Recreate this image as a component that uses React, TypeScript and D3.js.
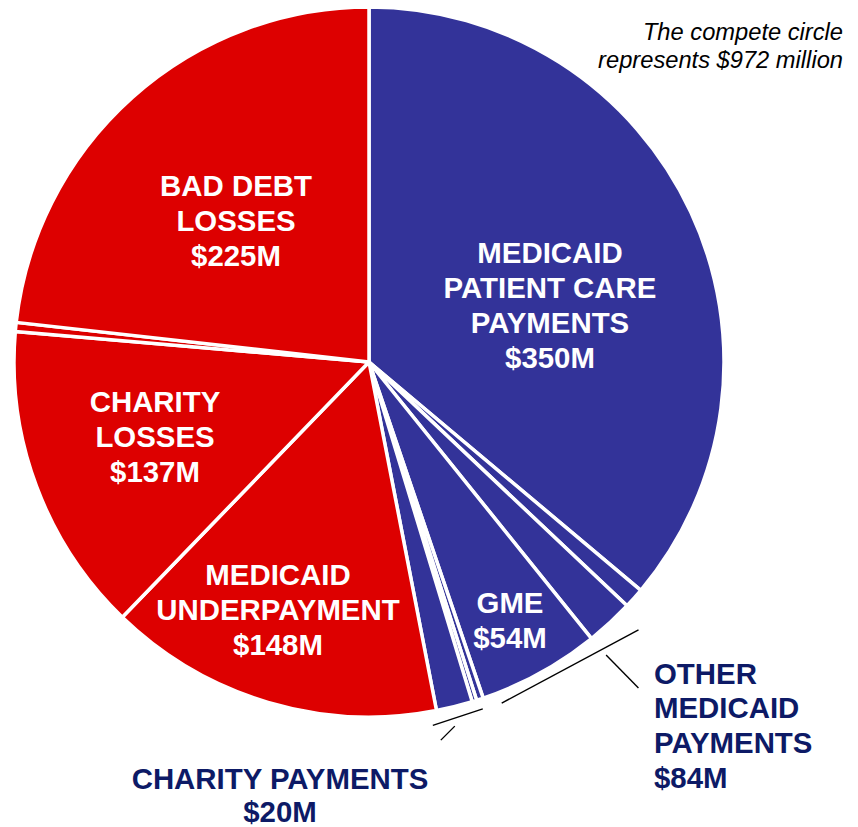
import React from "react";
import * as d3 from "d3";

// ---- data (millions of dollars), clockwise from 12 o'clock ----
const sliceNames = [
  "Medicaid patient care payments",
  "Other Medicaid payments A",
  "Other Medicaid payments B",
  "GME",
  "Charity payments A",
  "Charity payments B",
  "Charity payments C",
  "Medicaid underpayment",
  "Charity losses",
  "Other losses",
  "Bad debt losses",
];
const sliceValues = [350, 9, 21, 54, 3, 2, 16, 148, 137, 4, 225];
const sliceGroup = ["pay", "pay", "pay", "pay", "pay", "pay", "pay", "loss", "loss", "loss", "loss"];

const insideLabels = [
  ["MEDICAID", "PATIENT CARE", "PAYMENTS", "$350M"],
  ["GME", "$54M"],
  ["MEDICAID", "UNDERPAYMENT", "$148M"],
  ["CHARITY", "LOSSES", "$137M"],
  ["BAD DEBT", "LOSSES", "$225M"],
];
const otherMedicaidLabel = ["OTHER", "MEDICAID", "PAYMENTS", "$84M"];
const charityPaymentsLabel = ["CHARITY PAYMENTS", "$20M"];
const noteLines = ["The compete circle", "represents $972 million"];

// ---- layout / style ----
const W = 858;
const H = 827;
const CX = 369;
const CY = 362;
const R = 355;
const BLUE = "#333399";
const RED = "#DD0000";
const NAVY = "#0d1a66";
const FONT = "'Liberation Sans', Arial, sans-serif";
const LINE = 35;
const FS = 29.4;

// label anchor points (centre of first line, offset from the pie centre)
const insideOffsets: [number, number][] = [
  [181, -110],
  [141, 240],
  [-91, 212],
  [-214, 39],
  [-133, -177],
];

const polar = (deg: number, r: number): [number, number] => {
  const a = (deg * Math.PI) / 180;
  return [CX + r * Math.sin(a), CY - r * Math.cos(a)];
};

export default function App() {
  const pie = d3
    .pie<number>()
    .sort(null)
    .value((d) => d)
    .startAngle(0)
    .endAngle(2 * Math.PI);
  const arcs = pie(sliceValues);
  const arc = d3.arc<d3.PieArcDatum<number>>().innerRadius(0).outerRadius(R);
  const color = d3.scaleOrdinal<string, string>().domain(["pay", "loss"]).range([BLUE, RED]);

  const deg = (rad: number) => (rad * 180) / Math.PI;
  // group angles for the outside brackets
  const omStart = deg(arcs[1].startAngle);
  const omEnd = deg(arcs[3].endAngle);
  const cpStart = deg(arcs[4].startAngle);
  const cpEnd = deg(arcs[6].endAngle);

  const omA = polar(omStart + 4.8, R + 25);
  const omB = polar(omEnd - 2.5, R + 11);
  const omL1 = polar(omStart + 11, R + 22);
  const omL2 = polar(omStart + 10.4, R + 68);

  const cpA = polar(cpStart + 0.6, R + 10);
  const cpB = polar(cpEnd + 1.0, R + 14);
  const cpL1: [number, number] = [(cpA[0] + cpB[0]) / 2 - 3, (cpA[1] + cpB[1]) / 2 + 9];
  const cpL2: [number, number] = [cpL1[0] - 14, cpL1[1] + 14];

  return (
    <svg
      width={W}
      height={H}
      style={{ position: "absolute", left: 0, top: 0, background: "#fff" }}
      fontFamily={FONT}
    >
      <g transform={`translate(${CX},${CY})`}>
        {arcs.map((a, i) => (
          <path
            key={sliceNames[i]}
            d={arc(a) || ""}
            fill={color(sliceGroup[i])}
            stroke="#fff"
            strokeWidth={3.5}
            strokeLinejoin="round"
          />
        ))}
      </g>

      {insideLabels.map((lines, i) => (
        <text
          key={i}
          textAnchor="middle"
          fontWeight="bold"
          fontSize={FS}
          fill="#fff"
        >
          {lines.map((t, j) => (
            <tspan key={j} x={CX + insideOffsets[i][0]} y={CY + insideOffsets[i][1] + j * LINE + 10.5}>
              {t}
            </tspan>
          ))}
        </text>
      ))}

      {/* outside annotations */}
      <g stroke="#000" strokeWidth={1.4}>
        <line x1={omA[0]} y1={omA[1]} x2={omB[0]} y2={omB[1]} />
        <line x1={omL1[0]} y1={omL1[1]} x2={omL2[0]} y2={omL2[1]} />
        <line x1={cpA[0]} y1={cpA[1]} x2={cpB[0]} y2={cpB[1]} />
        <line x1={cpL1[0]} y1={cpL1[1]} x2={cpL2[0]} y2={cpL2[1]} />
      </g>

      <text fontWeight="bold" fontSize={FS} fill={NAVY}>
        {otherMedicaidLabel.map((t, j) => (
          <tspan key={j} x={654} y={673 + j * 34.7 + 10.5}>
            {t}
          </tspan>
        ))}
      </text>
      <text fontWeight="bold" fontSize={FS} fill={NAVY} textAnchor="middle">
        {charityPaymentsLabel.map((t, j) => (
          <tspan key={j} x={280} y={778 + j * 33 + 10.5}>
            {t}
          </tspan>
        ))}
      </text>

      <text fontStyle="italic" fontSize={23.7} fill="#000" textAnchor="end">
        {noteLines.map((t, j) => (
          <tspan key={j} x={843} y={40 + j * 28}>
            {t}
          </tspan>
        ))}
      </text>
    </svg>
  );
}
